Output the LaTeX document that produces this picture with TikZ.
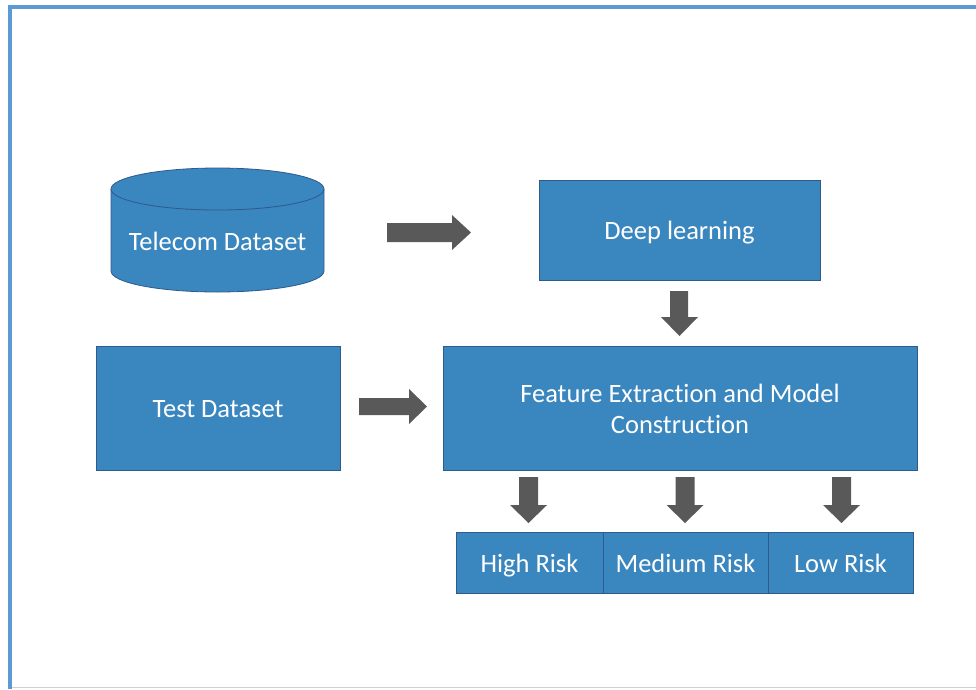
\documentclass[tikz,border=0pt]{standalone}
\usepackage{fontspec}
\setmainfont{Carlito}[Ligatures={NoCommon}]
\definecolor{boxblue}{HTML}{3A86BE}
\definecolor{boxedge}{HTML}{2F5A8C}
\definecolor{framblue}{HTML}{5B9BD5}
\definecolor{arrowgray}{HTML}{595959}
\definecolor{lightrule}{HTML}{D0D0D0}
\tikzset{
  boxfont/.style={font=\fontsize{26.5}{31}\selectfont},
  blockbox/.style={draw=boxedge, line width=0.8pt, fill=boxblue, text=white,
    boxfont, align=center, inner sep=0pt},
  oneline/.style={text height=19pt, text depth=0pt},
  blockarrow/.style={fill=arrowgray, draw=none},
}
\begin{document}
\begin{tikzpicture}[x=1pt, y=-1pt]
\useasboundingbox (0,0) rectangle (976,689);
% frame of the slide
\fill[white] (0,0) rectangle (976,689);
\draw[framblue, line width=4pt] (10,689) -- (10,7) -- (976,7);
\draw[lightrule, line width=1.5pt] (12,687.5) -- (976,687.5);

% telecom dataset drum
\fill[boxblue] (111,189) -- (111,271) arc[start angle=180, end angle=0, x radius=106.5, y radius=21] -- (324,189) -- cycle;
\draw[boxedge, line width=0.8pt] (111,189) -- (111,271) arc[start angle=180, end angle=0, x radius=106.5, y radius=21] -- (324,189);
\filldraw[fill=boxblue, draw=boxedge, line width=0.8pt] (217.5,189) ellipse[x radius=106.5, y radius=21];
\node[text=white, boxfont, oneline] (telecom) at (217.5,241) {Telecom Dataset};

% boxes
\node[blockbox, minimum width=281pt, minimum height=100pt] (deep) at (679.5,230) {};
\node[text=white, boxfont, oneline] (deeptext) at (deep.center) {Deep learning};
\node[blockbox, minimum width=244pt, minimum height=124pt] (test) at (218,408) {};
\node[text=white, boxfont, oneline] (testtext) at (test.center) {Test Dataset};
\node[blockbox, minimum width=474pt, minimum height=124pt] (feat) at (680,408.5) {Feature Extraction and Model\\Construction};
\node[blockbox, oneline, minimum width=147pt, minimum height=61pt] (high) at (529.5,562.5) {High Risk};
\node[blockbox, oneline, minimum width=165pt, minimum height=61pt] (medium) at (685.5,562.5) {Medium Risk};
\node[blockbox, oneline, minimum width=145pt, minimum height=61pt] (low) at (840.5,562.5) {Low Risk};

% block arrows
\fill[blockarrow] (387,223) -- (452,223) -- (452,215) -- (471,232.5) -- (452,250) -- (452,242) -- (387,242) -- cycle;
\fill[blockarrow] (359,398) -- (409,398) -- (409,389) -- (427,406.5) -- (409,424) -- (409,415) -- (359,415) -- cycle;
\fill[blockarrow] (670,291) -- (670,317) -- (661,317) -- (679.5,336) -- (698,317) -- (688,317) -- (688,291) -- cycle;
\foreach \cx in {528.5,685,841.5}{
  \fill[blockarrow] (\cx-9.5,477) -- (\cx-9.5,505) -- (\cx-18.5,505) -- (\cx,523) -- (\cx+18.5,505) -- (\cx+9.5,505) -- (\cx+9.5,477) -- cycle;
}
\end{tikzpicture}
\end{document}
